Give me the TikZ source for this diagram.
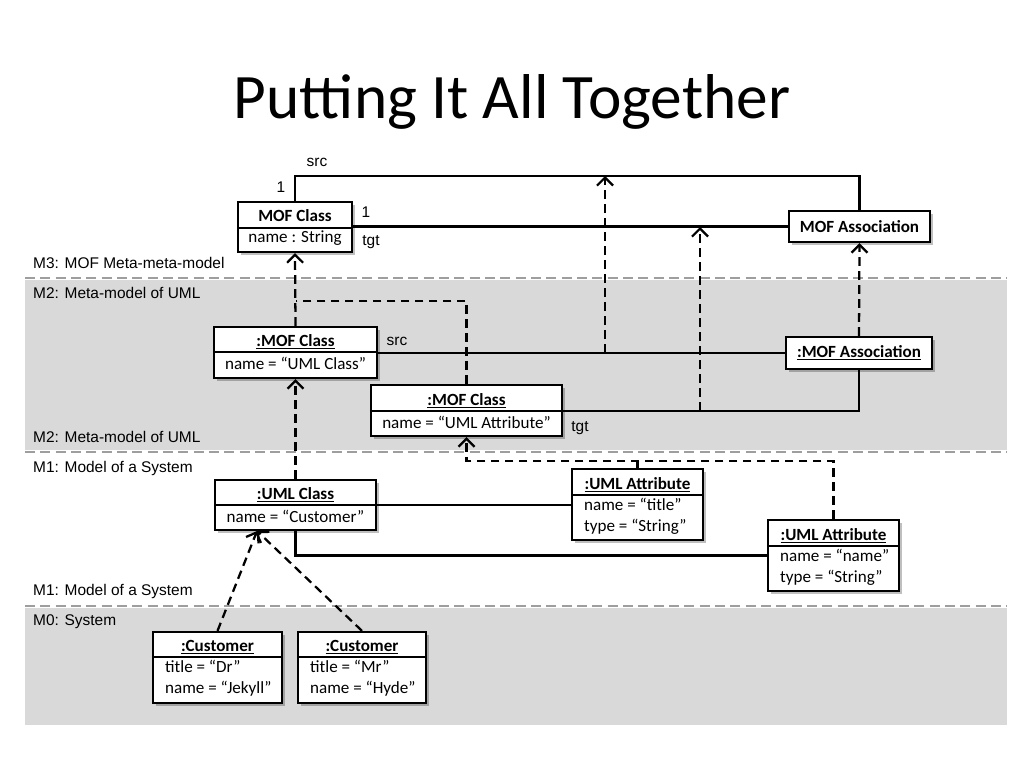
\documentclass[tikz,border=0pt]{standalone}
\usepackage{fontspec}
\setmainfont{Carlito}
\newfontfamily\arialf{Liberation Sans}
\usetikzlibrary{arrows.meta,shadows,fit}
\begin{document}
\begin{tikzpicture}[x=0.75pt,y=-0.75pt,
  line width=1.7pt,
  box/.style={draw=black, fill=white, line width=1.7pt, inner sep=0pt,
    drop shadow={shadow xshift=2pt,shadow yshift=-2pt,fill=black,opacity=0.25}},
  hdr/.style={font=\fontsize{12.8}{15}\selectfont\bfseries, inner sep=0pt},
  attr/.style={font=\fontsize{12.8}{15.6}\selectfont, inner sep=0pt, align=left},
  lbl/.style={font=\arialf\fontsize{11.6}{13}\selectfont, inner sep=0pt},
  sep/.style={draw=black!38, line width=1.6pt, dash pattern=on 7.5pt off 4pt},
  band/.style={fill=black!15, draw=none},
  dline/.style={line width=1.7pt, dash pattern=on 6.5pt off 4pt},
  inst/.style={dline, -{Straight Barb[length=6pt,width=12pt]}},
]
\useasboundingbox (0,0) rectangle (1024,768);

% title
\node[font=\fontsize{47.5}{50}\selectfont, anchor=base, inner sep=0pt] (title) at (512,118) {Putting It All Together};

% bands
\path[band] (25,280) rectangle (1007,450);
\path[band] (25,608) rectangle (1007,725);
\draw[sep] (25,278) -- (1007,278);
\draw[sep] (25,452) -- (1007,452);
\draw[sep] (25,606) -- (1007,606);

% layer labels
\node[lbl, anchor=west] (l3) at (32,263) {M3: MOF Meta-meta-model};
\node[lbl, anchor=west] (l2a) at (32,293) {M2: Meta-model of UML};
\node[lbl, anchor=west] (l2b) at (32,437) {M2: Meta-model of UML};
\node[lbl, anchor=west] (l1a) at (32,468) {M1: Model of a System};
\node[lbl, anchor=west] (l1b) at (32,591) {M1: Model of a System};
\node[lbl, anchor=west] (l0) at (32,622) {M0: System};

% ---------- M3 ----------
\node[box, fit={(238,202) (352,252)}] (mc) {};
\draw (mc.west |- 0,228) -- (mc.east |- 0,228);
\node[hdr] (mc-h) at (295,216) {MOF Class};
\node[attr] (mc-b) at (295,238) {name : String};

\node[box, fit={(789,211) (930,242)}] (ma) {};
\node[hdr] (ma-h) at (859.5,227) {MOF Association};

\draw (mc.north) -- (mc.north |- 0,176) -| (ma.north);
\draw (mc.east |- ma.west) -- (ma.west);
\node[lbl] (src3) at (317,162) {src};
\node[lbl] (one3a) at (281,187) {1};
\node[lbl] (one3b) at (366,212) {1};
\node[lbl] (tgt3) at (371,242) {tgt};

\coordinate (srcM3) at (605,176);
\coordinate (tgtM3) at (700,227);

% ---------- M2 ----------
\node[box, fit={(214,327) (377,378)}] (uc) {};
\draw (uc.west |- 0,352) -- (uc.east |- 0,352);
\node[hdr] (uc-h) at (295.5,342) {\underline{:MOF Class}};
\node[attr] (uc-b) at (295.5,363) {name = “UML Class”};

\node[box, fit={(371,385) (562,436)}] (ua) {};
\draw (ua.west |- 0,411) -- (ua.east |- 0,411);
\node[hdr] (ua-h) at (466.5,401) {\underline{:MOF Class}};
\node[attr] (ua-b) at (466.5,422) {name = “UML Attribute”};

\node[box, fit={(786,337) (932,369)}] (mas) {};
\node[hdr] (mas-h) at (859,353) {\underline{:MOF Association}};

\draw (uc.east |- mas.west) -- (mas.west);
\draw (ua.east |- 0,411) -| (mas.south);
\node[lbl] (src2) at (397,341) {src};
\node[lbl] (tgt2) at (580,428) {tgt};

\coordinate (srcM2) at (605,353);
\coordinate (tgtM2) at (700,411);
\coordinate (j1) at (295.5,301);

\draw[inst] (srcM2) -- (srcM3);
\draw[inst] (tgtM2) -- (tgtM3);
\draw[inst] (mas.north) -- (ma.south);
\draw[inst] (uc.north) -- (mc.south);
\draw[dline] (ua.north) |- (j1);

% ---------- M1 ----------
\node[box, fit={(215,480) (376,530)}] (ucl) {};
\draw (ucl.west |- 0,505) -- (ucl.east |- 0,505);
\node[hdr] (ucl-h) at (295.5,495) {\underline{:UML Class}};
\node[attr] (ucl-b) at (295.5,516) {name = “Customer”};

\node[box, fit={(572,469) (703,540)}] (uat) {};
\draw (uat.west |- 0,495) -- (uat.east |- 0,495);
\node[hdr] (uat-h) at (637.5,485) {\underline{:UML Attribute}};
\node[attr, anchor=west] (uat-b) at (583,516) {name = “title”\\type = “String”};

\node[box, fit={(768,520) (899,591)}] (uan) {};
\draw (uan.west |- 0,546) -- (uan.east |- 0,546);
\node[hdr] (uan-h) at (833.5,536) {\underline{:UML Attribute}};
\node[attr, anchor=west] (uan-b) at (779,567) {name = “name”\\type = “String”};

\draw (ucl.east) -- (uat.west |- ucl.east);
\draw (ucl.south) |- (uan.west);

\coordinate (j2) at (466.5,461);
\draw[inst] (ucl.north) -- (uc.south);
\draw[inst] (uan.north) |- (j2) -- (ua.south);
\draw[dline] (uat.north) -- (uat.north |- j2);

% ---------- M0 ----------
\node[box, fit={(153,632) (282,703)}] (cj) {};
\draw (cj.west |- 0,657) -- (cj.east |- 0,657);
\node[hdr] (cj-h) at (217.5,647) {\underline{:Customer}};
\node[attr, anchor=west] (cj-b) at (164,678) {title = “Dr”\\name = “Jekyll”};

\node[box, fit={(298,632) (426,703)}] (ch) {};
\draw (ch.west |- 0,657) -- (ch.east |- 0,657);
\node[hdr] (ch-h) at (362,647) {\underline{:Customer}};
\node[attr, anchor=west] (ch-b) at (309,678) {title = “Mr”\\name = “Hyde”};

\coordinate (ucfoot) at (257,531);
\draw[inst] (cj.north) -- (ucfoot);
\draw[inst] (ch.north) -- (ucfoot);
\end{tikzpicture}
\end{document}
